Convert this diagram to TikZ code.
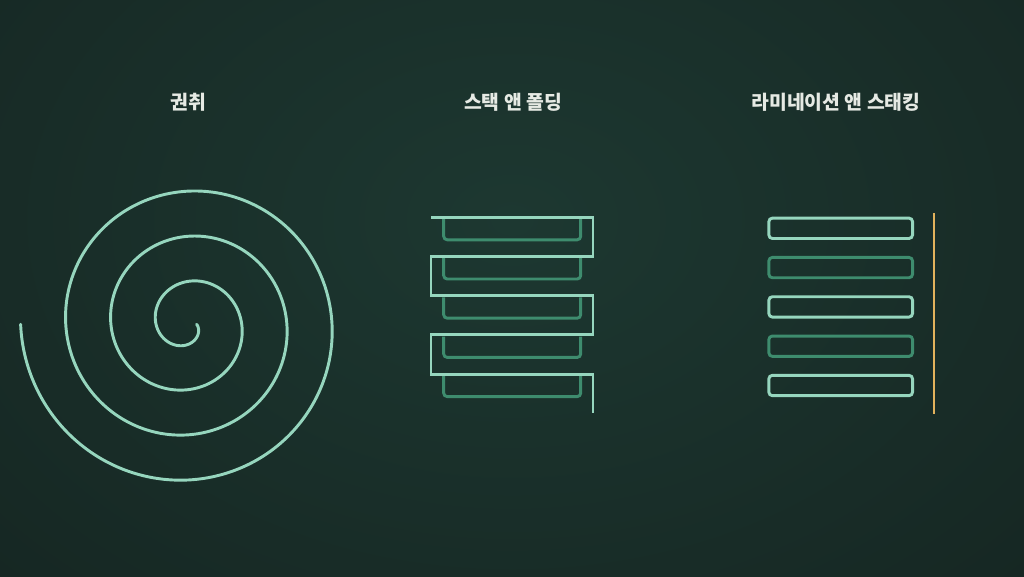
\documentclass[tikz,border=0pt]{standalone}
\usepackage{fontspec}
\newfontfamily\kor{Noto Sans CJK KR}
\definecolor{bgin}{RGB}{29,56,49}
\definecolor{bgout}{RGB}{17,27,25}
\definecolor{mint}{RGB}{150,214,190}
\definecolor{deepmint}{RGB}{62,140,110}
\definecolor{tabgold}{RGB}{226,178,92}
\definecolor{titlegrey}{RGB}{230,234,228}
\pgfdeclareradialshading{bgglow}{\pgfpoint{0bp}{0bp}}{color(0bp)=(bgin); color(50bp)=(bgout); color(100bp)=(bgout)}

\begin{document}
\begin{tikzpicture}[x = 0.03cm, y = -0.03cm,
  heading/.style = {text=titlegrey, font=\kor\bfseries\fontsize{16.5pt}{18pt}\selectfont},
  coilline/.style = {draw=mint, line width=2.5pt, line cap=round},
  zigline/.style = {draw=mint, line width=2.5pt, line join=miter},
  pocket/.style = {draw=deepmint, line width=2.5pt, rounded corners=3pt},
  sheet/.style = {rectangle, rounded corners=3pt, line width=2.5pt, inner sep=0pt,
                  minimum width=4.31cm, minimum height=0.61cm},
  tab/.style = {draw=tabgold, line width=1.7pt},]

\useasboundingbox (0,0) rectangle (1024,576);
\clip (0,0) rectangle (1024,576);
\fill[bgout] (0,0) rectangle (1024,576);
\shade[shading=bgglow] (-100,-220) rectangle (1124,660);

\node[heading] (T1) at (188,102) {권취};
\node[heading] (T2) at (513,102) {스택 앤 폴딩};
\node[heading] (T3) at (836,102) {라미네이션 앤 스태킹};

\draw[coilline] plot[domain=0:1260, samples=420, smooth]
  ({187.6+(9+0.1254*\x)*cos(\x)}, {324.3+(9+0.1254*\x)*sin(\x)});

\draw[pocket] (443.7,219) -- (443.7,239.8) -- (580.7,239.8) -- (580.7,219);
\draw[pocket] (443.7,258.2) -- (443.7,279) -- (580.7,279) -- (580.7,258.2);
\draw[pocket] (443.7,297.4) -- (443.7,318.2) -- (580.7,318.2) -- (580.7,297.4);
\draw[pocket] (443.7,336.6) -- (443.7,357.4) -- (580.7,357.4) -- (580.7,336.6);
\draw[pocket] (443.7,375.8) -- (443.7,396.6) -- (580.7,396.6) -- (580.7,375.8);

\draw[zigline] (431,217.3) -- (593,217.3) -- (593,256.5) -- (431,256.5)
  -- (431,295.7) -- (593,295.7) -- (593,334.9) -- (431,334.9)
  -- (431,374.1) -- (593,374.1) -- (593,412.7);

\node[sheet, draw=mint] (S1) at (840.7,228.3) {};
\node[sheet, draw=deepmint] (S2) at (840.7,267.6) {};
\node[sheet, draw=mint] (S3) at (840.7,306.9) {};
\node[sheet, draw=deepmint] (S4) at (840.7,346.2) {};
\node[sheet, draw=mint] (S5) at (840.7,385.5) {};

\coordinate (G1) at (934.3,213.3);
\coordinate (G2) at (934.3,414);
\draw[tab] (G1) -- (G2);

\end{tikzpicture}
\end{document}
